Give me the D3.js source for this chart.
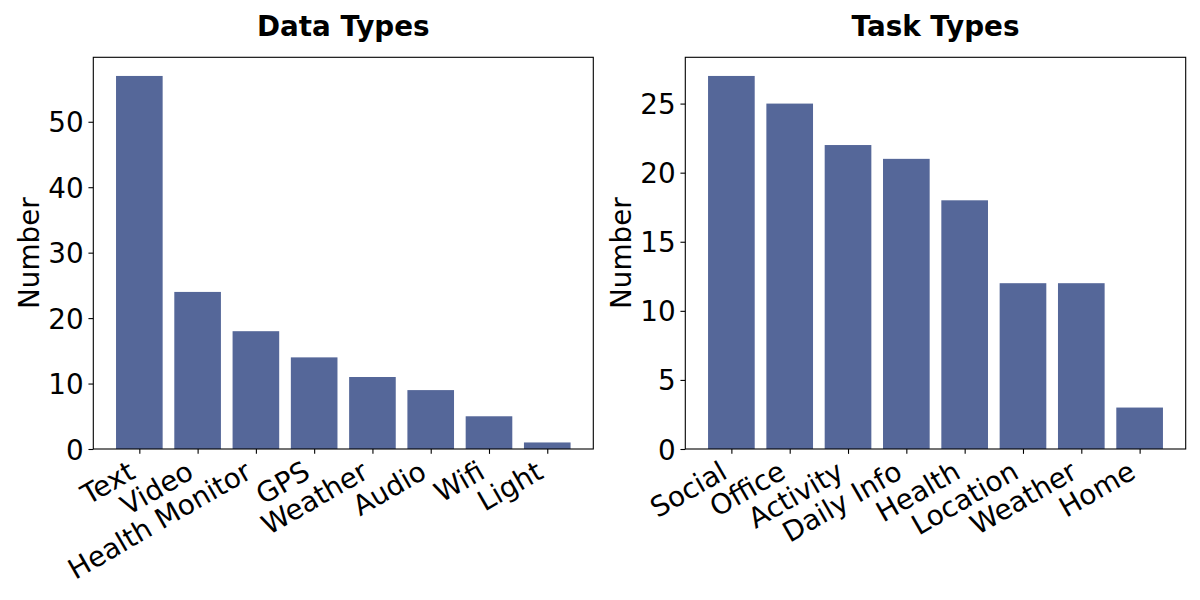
<!DOCTYPE html>
<html>
<head>
<meta charset="utf-8">
<script src="https://cdn.jsdelivr.net/npm/d3@7"></script>
<style>
  body { margin: 0; background: #fff; }
  svg { display: block; font-family: "DejaVu Sans", sans-serif; }
</style>
</head>
<body>
<svg id="chart" width="1200" height="600"></svg>
<script>
const dataCategories = ["Text", "Video", "Health Monitor", "GPS", "Weather", "Audio", "Wifi", "Light"];
const dataValues = [57, 24, 18, 14, 11, 9, 5, 1];
const dataTicks = [0, 10, 20, 30, 40, 50];

const taskCategories = ["Social", "Office", "Activity", "Daily Info", "Health", "Location", "Weather", "Home"];
const taskValues = [27, 25, 22, 21, 18, 12, 12, 3];
const taskTicks = [0, 5, 10, 15, 20, 25];

const titles = ["Data Types", "Task Types"];
const yLabel = "Number";

const barColor = "#556799";
const fontSize = 27.8;
const tickLen = 4.86;
const tickPad = 4.86;

const svg = d3.select("#chart");

function drawPanel(left, right, top, bottom, cats, vals, ticks, title) {
  const g = svg.append("g");
  const n = cats.length;
  const x = d3.scaleLinear().domain([-0.4 - 0.05 * (n - 0.2), n - 0.6 + 0.05 * (n - 0.2)]).range([left, right]);
  const yMax = d3.max(vals) * 1.05;
  const y = d3.scaleLinear().domain([0, yMax]).range([bottom, top]);

  // bars
  g.selectAll("rect.bar").data(vals).join("rect")
    .attr("class", "bar")
    .attr("x", (d, i) => x(i - 0.4))
    .attr("width", (d, i) => x(i + 0.4) - x(i - 0.4))
    .attr("y", d => y(d))
    .attr("height", d => y(0) - y(d))
    .attr("fill", barColor);

  // frame
  g.append("rect")
    .attr("x", left).attr("y", top)
    .attr("width", right - left).attr("height", bottom - top)
    .attr("fill", "none").attr("stroke", "#000").attr("stroke-width", 1.1);

  // y axis
  const yAxis = d3.axisLeft(y).tickValues(ticks).tickSize(tickLen).tickPadding(tickPad).tickFormat(d3.format("d"));
  const ya = g.append("g").attr("transform", `translate(${left},0)`).call(yAxis);
  ya.select(".domain").remove();
  ya.selectAll(".tick line").attr("stroke", "#000").attr("stroke-width", 1.1);
  ya.selectAll(".tick text").attr("font-size", fontSize).attr("fill", "#000")
    .attr("font-family", "DejaVu Sans").attr("dy", "0.36em");

  // x axis
  const xAxis = d3.axisBottom(x).tickValues(d3.range(n)).tickSize(tickLen).tickFormat(i => cats[i]);
  const xa = g.append("g").attr("transform", `translate(0,${bottom})`).call(xAxis);
  xa.select(".domain").remove();
  xa.selectAll(".tick line").attr("stroke", "#000").attr("stroke-width", 1.1);
  const asc = 0.76 * fontSize, desc = 0.208 * fontSize;
  const y0 = tickLen + tickPad;
  xa.selectAll(".tick text")
    .attr("font-size", fontSize).attr("fill", "#000").attr("font-family", "DejaVu Sans")
    .attr("y", null).attr("dy", null)
    .attr("text-anchor", "end")
    .attr("transform", `translate(${-desc * 0.5},${y0 + asc * Math.cos(Math.PI / 6)}) rotate(-30)`);

  // y label
  g.append("text")
    .attr("transform", `translate(${left - 54.8},${(top + bottom) / 2}) rotate(-90)`)
    .attr("text-anchor", "middle")
    .attr("font-size", fontSize)
    .attr("fill", "#000")
    .text(yLabel);

  // title
  g.append("text")
    .attr("x", (left + right) / 2).attr("y", 36)
    .attr("text-anchor", "middle")
    .attr("font-size", fontSize)
    .attr("font-weight", "bold")
    .attr("fill", "#000")
    .text(title);
}

drawPanel(93.3, 593.3, 57.3, 449, dataCategories, dataValues, dataTicks, titles[0]);
drawPanel(685.3, 1185.7, 57.3, 449, taskCategories, taskValues, taskTicks, titles[1]);
</script>
</body>
</html>
